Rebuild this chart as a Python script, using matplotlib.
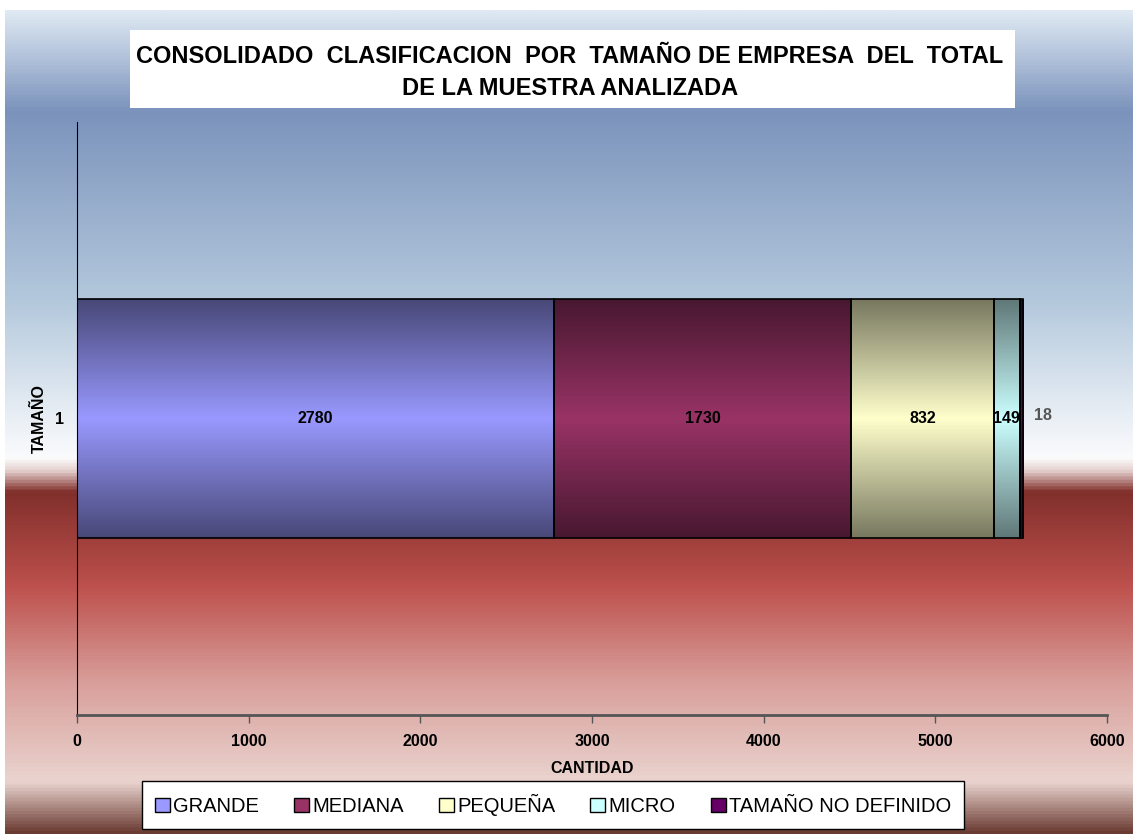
import numpy as np
import matplotlib.pyplot as plt
from matplotlib.colors import LinearSegmentedColormap, to_rgb
from matplotlib.patches import Patch, Rectangle

plt.rcParams['font.family'] = ['Liberation Sans', 'DejaVu Sans']

# data
categorias = ['GRANDE', 'MEDIANA', 'PEQUEÑA', 'MICRO', 'TAMAÑO NO DEFINIDO']
cantidades = [2780, 1730, 832, 149, 18]
colores = ['#9999ff', '#993366', '#ffffcc', '#ccffff', '#660066']
ticks_x = [0, 1000, 2000, 3000, 4000, 5000, 6000]

W, H = 1133, 834
fig = plt.figure(figsize=(W / 100, H / 100), dpi=100)
fig.patch.set_facecolor('white')

# background gradient (top -> bottom)
bg_stops = [(0.0, '#dfe9f3'), (0.12, '#7b93bc'), (0.35, '#b3c8dc'),
            (0.53, '#f6f8fb'), (0.545, '#fbfbfb'), (0.56, '#e4cfcd'),
            (0.585, '#812f2b'), (0.70, '#bd504c'), (0.82, '#d9a09c'),
            (0.94, '#ead4cf'), (1.0, '#6a3b32')]
bg_cmap = LinearSegmentedColormap.from_list('bg', bg_stops)
bg = fig.add_axes([5 / W, 0, 1 - 5 / W, 824 / H], zorder=-10)
bg.imshow(np.linspace(0, 1, 500).reshape(-1, 1), aspect='auto', cmap=bg_cmap,
          extent=[0, 1, 0, 1], origin='upper')
bg.axis('off')

ax = fig.add_axes([77 / W, (H - 715) / H, (1107 - 77) / W, (715 - 122) / H])
ax.patch.set_alpha(0)

left = 0
for cat, val, col in zip(categorias, cantidades, colores):
    bar = ax.barh(1, val, left=left, height=0.403, color=col,
                  edgecolor='black', linewidth=1.2, label=cat, zorder=3)[0]
    c = np.array(to_rgb(col))
    edge = c * 0.47
    cm = LinearSegmentedColormap.from_list('g', [edge, c, edge])
    im = ax.imshow(np.linspace(0, 1, 200).reshape(-1, 1), aspect='auto', cmap=cm,
                   extent=[bar.get_x(), bar.get_x() + bar.get_width(),
                           bar.get_y(), bar.get_y() + bar.get_height()],
                   zorder=2)
    im.set_clip_path(bar)
    bar.set_facecolor('none')
    left += val

# labels
left = 0
for val in cantidades[:-1]:
    ax.text(left + val / 2, 1, str(val), ha='center', va='center',
            fontsize=11.5, fontweight='bold', color='black', zorder=5)
    left += val
ax.text(left + cantidades[-1] + 120, 1.005, str(cantidades[-1]), ha='center',
        va='center', fontsize=11.5, fontweight='bold', color='#555555', zorder=5)

ax.set_xlim(0, 6000)
ax.set_ylim(0.5, 1.5)
ax.set_xticks(ticks_x)
ax.set_xticklabels([str(t) for t in ticks_x], fontsize=11.5, fontweight='bold')
ax.set_yticks([1])
ax.set_yticklabels(['1'], fontsize=11.5, fontweight='bold')
ax.tick_params(axis='y', length=0, pad=9)
ax.tick_params(axis='x', length=6, width=1, color='#555555', pad=8)
for s in ['top', 'right']:
    ax.spines[s].set_visible(False)
ax.spines['left'].set_color('black')
ax.spines['left'].set_linewidth(0.8)
ax.spines['bottom'].set_color('#555555')
ax.spines['bottom'].set_linewidth(2)
ax.set_xlabel('CANTIDAD', fontsize=11.5, fontweight='bold', labelpad=8)
ax.set_ylabel('TAMAÑO', fontsize=11.5, fontweight='bold', labelpad=6)

# title box
fig.patches.append(Rectangle((130 / W, (H - 108) / H), 885 / W, 78 / H,
                             transform=fig.transFigure, facecolor='white',
                             edgecolor='none', zorder=1))
fig.text(570 / W, (H - 72.5) / H,
         'CONSOLIDADO  CLASIFICACION  POR  TAMAÑO DE EMPRESA  DEL  TOTAL\nDE LA MUESTRA ANALIZADA',
         ha='center', va='center', fontsize=17, fontweight='bold',
         linespacing=1.45, zorder=2)

handles = [Patch(facecolor=c, edgecolor='black', linewidth=1) for c in colores]
leg = fig.legend(handles, categorias, loc='center', ncol=5,
                 bbox_to_anchor=(553 / W, (H - 805) / H), fontsize=14.5,
                 frameon=True, fancybox=False, edgecolor='black',
                 handlelength=0.75, handleheight=0.75, handletextpad=0.15,
                 columnspacing=1.75, borderpad=0.65)
leg.get_frame().set_linewidth(1)
leg.get_frame().set_alpha(1)

fig.savefig('out.png', dpi=100)
